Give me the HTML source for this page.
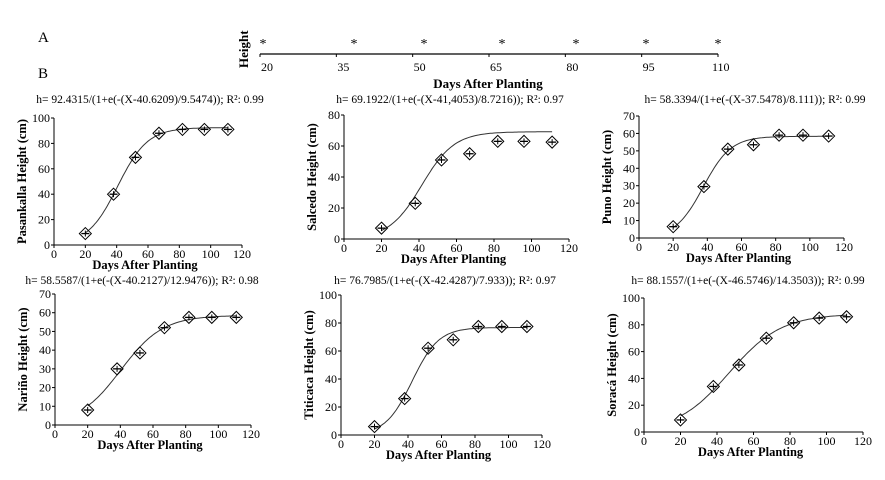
<!DOCTYPE html>
<html><head><meta charset="utf-8"><style>
body{margin:0;background:#fff;width:885px;height:475px;overflow:hidden}
svg, svg text{font-family:"Liberation Serif","Times New Roman",serif;fill:#000}
</style></head><body>
<svg id="s" width="885" height="475" xmlns="http://www.w3.org/2000/svg" font-family="Liberation Serif, serif">
<text x="38" y="42" font-size="15">A</text>
<text x="38" y="78" font-size="15">B</text>
<g>
<line x1="260" y1="54" x2="718" y2="54" stroke="#000" stroke-width="1.2"/>
<text transform="translate(248,68) rotate(-90)" font-size="13" font-weight="bold">Height</text>
<text x="488" y="88" font-size="13" font-weight="bold" text-anchor="middle">Days After Planting</text>
</g>
</svg>
<script>
const S=document.getElementById('s');const NS='http://www.w3.org/2000/svg';
function mk(t,a,p){const e=document.createElementNS(NS,t);for(const k in a)e.setAttribute(k,a[k]);if(t==='text')e.setAttribute('font-family','Liberation Serif, serif');(p||S).appendChild(e);return e;}
const tlTicks=[20,35,50,65,80,95,110];
const tlStarX=[263,354,424,502,576,646,718];
tlTicks.forEach((v,i)=>{const x=260+i*(458/6);
mk('line',{x1:x,y1:54,x2:x,y2:57,stroke:'#000'});
const t=mk('text',{x:x+(i==6?-6:1),y:71,'font-size':12,'text-anchor':'start'});t.textContent=v;

});
tlStarX.forEach(x=>{const t=mk('text',{x:x,y:48,'font-size':14,'text-anchor':'middle'});t.textContent='*';

});

const days=[20,38,52,67,82,96,111];
const pasankalla=[9,40,69,88,91,91,91];
const salcedo=[7,23,51,55,63,63,62.5];
const puno=[6.5,29.5,51,53.5,59,59,58.5];
const narino=[8,30,38.5,52,57.5,57.5,57.5];
const titicaca=[6,26,62,68,77.5,77.5,77.5];
const soraca=[9,34,50,70,81.5,85,86];
const xTicks=[0,20,40,60,80,100,120];
const panels=[
{n:'pasankalla',d:pasankalla,p:[92.4315,40.6209,9.5474],f:'h= 92.4315/(1+e(-(X-40.6209)/9.5474)); R²: 0.99',y:'Pasankalla Height (cm)',x0:54,x1:242,yt:118,yb:245,ym:100,ys:20,fx:150,fy:103},
{n:'salcedo',d:salcedo,p:[69.1922,41.4053,8.7216],f:'h= 69.1922/(1+e(-(X-41,4053)/8.7216)); R²: 0.97',y:'Salcedo Height (cm)',x0:344,x1:569,yt:115,yb:239,ym:80,ys:20,fx:450,fy:103},
{n:'puno',d:puno,p:[58.3394,37.5478,8.111],f:'h= 58.3394/(1+e(-(X-37.5478)/8.111)); R²: 0.99',y:'Puno Height (cm)',x0:639,x1:844,yt:116,yb:238,ym:70,ys:10,fx:755,fy:103},
{n:'narino',d:narino,p:[58.5587,40.2127,12.9476],f:'h= 58.5587/(1+e(-(X-40.2127)/12.9476)); R²: 0.98',y:'Nariño Height (cm)',x0:55,x1:251,yt:294,yb:425,ym:70,ys:10,fx:142,fy:284},
{n:'titicaca',d:titicaca,p:[76.7985,42.4287,7.933],f:'h= 76.7985/(1+e(-(X-42.4287)/7.933)); R²: 0.97',y:'Titicaca Height (cm)',x0:341,x1:542,yt:295,yb:435,ym:100,ys:20,fx:445,fy:284},
{n:'soraca',d:soraca,p:[88.1557,46.5746,14.3503],f:'h= 88.1557/(1+e(-(X-46.5746)/14.3503)); R²: 0.99',y:'Soracá Height (cm)',x0:644,x1:863,yt:298,yb:432,ym:100,ys:20,fx:748,fy:284}];
panels.forEach(P=>{
const g=mk('g',{});


const X=v=>P.x0+(P.x1-P.x0)*v/120, Y=v=>P.yb-(P.yb-P.yt)*v/P.ym;
const ft=mk('text',{x:P.fx,y:P.fy,'font-size':11.5,'text-anchor':'middle'},g);ft.textContent=P.f;


mk('line',{x1:P.x0,y1:P.yt,x2:P.x0,y2:P.yb,stroke:'#000','stroke-width':1},g);
mk('line',{x1:P.x0,y1:P.yb,x2:P.x1,y2:P.yb,stroke:'#000','stroke-width':1},g);
for(let v=0;v<=P.ym;v+=P.ys){mk('line',{x1:P.x0-3,y1:Y(v),x2:P.x0,y2:Y(v),stroke:'#000'},g);
const t=mk('text',{x:P.x0-4,y:Y(v)+4,'font-size':12,'text-anchor':'end'},g);t.textContent=v;

}
xTicks.forEach(v=>{mk('line',{x1:X(v),y1:P.yb,x2:X(v),y2:P.yb+3,stroke:'#000'},g);
const t=mk('text',{x:X(v),y:P.yb+13,'font-size':12,'text-anchor':'middle'},g);t.textContent=v;

});
const xt=mk('text',{x:(P.x0+P.x1)/2-3,y:P.yb+24,'font-size':12.5,'font-weight':'bold','text-anchor':'middle'},g);xt.textContent='Days After Planting';


const yt=mk('text',{transform:`translate(${P.x0-28},${(P.yt+P.yb)/2}) rotate(-90)`,'font-size':12.5,'font-weight':'bold','text-anchor':'middle'},g);yt.textContent=P.y;


let d='';for(let x=20;x<=111;x+=1){const h=P.p[0]/(1+Math.exp(-(x-P.p[1])/P.p[2]));d+=(x==20?'M':'L')+X(x).toFixed(1)+','+Y(h).toFixed(1);}
const c=mk('path',{d:d,fill:'none',stroke:'#333','stroke-width':1},g);


P.d.forEach((v,i)=>{const cx=X(days[i]),cy=Y(v);
mk('line',{x1:cx-4,y1:cy,x2:cx+4,y2:cy,stroke:'#000','stroke-width':1.3},g);
mk('line',{x1:cx,y1:cy-3,x2:cx,y2:cy+3,stroke:'#000','stroke-width':1},g);
const m=mk('path',{d:`M${cx},${cy-6}L${cx+6},${cy}L${cx},${cy+6}L${cx-6},${cy}Z`,fill:'none',stroke:'#000','stroke-width':1},g);

});
});
</script>
</body></html>
